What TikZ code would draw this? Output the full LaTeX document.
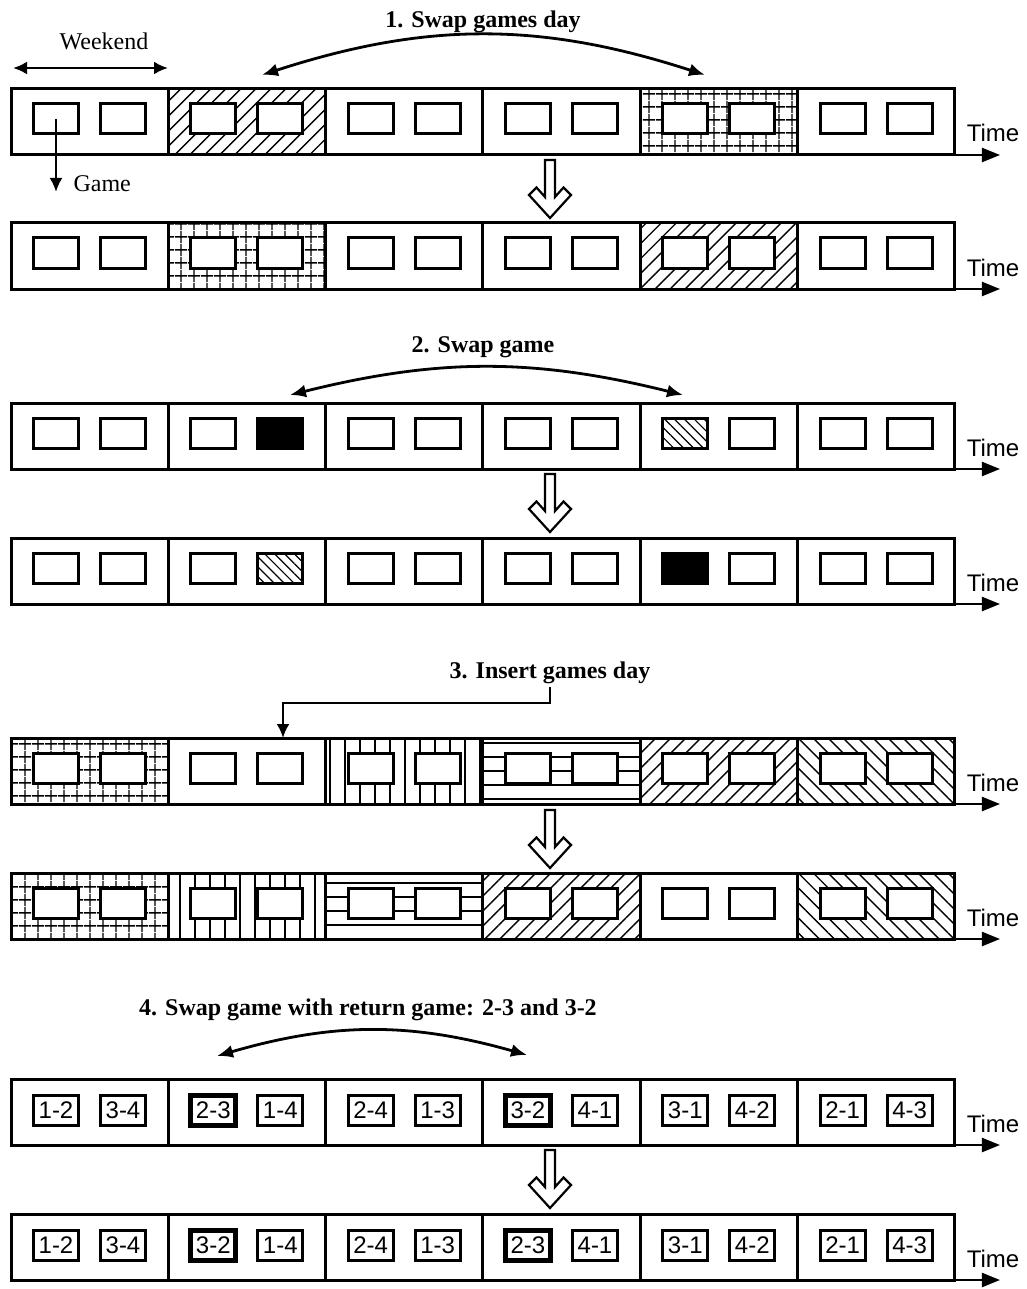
\documentclass[tikz,border=0pt]{standalone}
\usepackage{fontspec}
\setmainfont{Liberation Serif}
\setsansfont{Liberation Sans}
\usetikzlibrary{arrows.meta,patterns.meta}
\tikzset{
  day/.style={draw,line width=3pt,minimum width=157.33pt,minimum height=66pt,
    inner sep=0pt,outer sep=0pt,anchor=north west},
  game/.style={draw,line width=3pt,fill=white,minimum width=45pt,minimum height=30pt,
    inner sep=0pt,font=\sffamily\fontsize{24}{24}\selectfont},
  gfill/.style={#1},
  dplain/.style={},
  ddiag/.style={pattern={Lines[angle=45,distance=10.6pt,line width=1.4pt]}},
  danti/.style={pattern={Lines[angle=-45,distance=10.6pt,line width=1.4pt]}},
  dgrid/.style={pattern={Hatch[angle=0,distance=13pt,line width=1.4pt]}},
  dvert/.style={pattern={Lines[angle=90,distance=15pt,line width=1.4pt]}},
  dhoriz/.style={pattern={Lines[angle=0,distance=14pt,line width=1.4pt]}},
  gplain/.style={},
  gblack/.style={fill=black},
  ghatch/.style={pattern={Lines[angle=-45,distance=7pt,line width=1.2pt]}},
  gbold/.style={line width=5pt},
  ttl/.style={font=\bfseries\fontsize{24}{28}\selectfont,anchor=base},
  lbl/.style={font=\fontsize{24}{28}\selectfont,anchor=base},
  timelbl/.style={font=\sffamily\fontsize{24}{28}\selectfont,anchor=base},
  timeax/.style={line width=2.2pt,-{Triangle[length=18pt,width=14pt]}},
  swap/.style={line width=2.8pt,{Latex[length=16pt,width=13pt]}-{Latex[length=16pt,width=13pt]}},
  ptr/.style={line width=2.6pt,->},
  hollow/.style={line width=2.2pt,fill=white,line join=miter}
}
% one week: six days, time axis
\newcommand{\weekrow}[3]{%
  \foreach \dst [count=\d] in {#3}
    \node[day,gfill/.expanded=\dst] (#1d\d) at ({11+(\d-1)*157.33},#2) {};
  \coordinate (#1end) at ([xshift=45pt]#1d6.south east);
  \draw[timeax] (#1d6.south east) -- (#1end);
  \node[timelbl] (#1time) at ([xshift=38pt,yshift=13pt]#1d6.south east) {Time};
}
% two games per day
\newcommand{\gamerow}[2]{%
  \foreach \gst [count=\g] in {#2} {
    \pgfmathtruncatemacro{\dd}{(\g+1)/2}
    \pgfmathsetmacro{\gx}{isodd(\g) ? 45 : 112}
    \node[game,gfill/.expanded=\gst] (#1g\g) at ([xshift=\gx pt,yshift=3pt]#1d\dd.west) {};
  }
}
\newcommand{\labelrow}[2]{%
  \foreach \gst/\glab [count=\g] in {#2} {
    \pgfmathtruncatemacro{\dd}{(\g+1)/2}
    \pgfmathsetmacro{\gx}{isodd(\g) ? 45 : 112}
    \node[game,gfill/.expanded=\gst] (#1g\g) at ([xshift=\gx pt,yshift=1.5pt]#1d\dd.west) {\glab};
  }
}
\newcommand{\bigdown}[2]{%
  \draw[hollow,shift={(#1,#2)}] (-5,0) -- (5,0) -- (5,37) -- (13.5,27.5) -- (21,35)
    -- (0,58) -- (-21,35) -- (-13.5,27.5) -- (-5,37) -- cycle;
}
\begin{document}
\begin{tikzpicture}[x=1pt,y=-1pt,>={Latex[length=14pt,width=13pt]}]
  \useasboundingbox (0,0) rectangle (1026,1289);
  % 1. swap games day
  \node[ttl] (t1) at (483,28) {1. Swap games day};
  \node[lbl] (wk) at (104,50) {Weekend};
  \coordinate (wka) at (13,68);
  \coordinate (wkb) at (168,68);
  \draw[ptr,<->] (wka) -- (wkb);
  \weekrow{r1}{89}{dplain,ddiag,dplain,dplain,dgrid,dplain}
  \gamerow{r1}{gplain,gplain,gplain,gplain,gplain,gplain,gplain,gplain,gplain,gplain,gplain,gplain}
  \coordinate (s1a) at (262,75);
  \coordinate (s1b) at (705,75);
  \draw[swap] (s1a) to[bend left=18] (s1b);
  \node[lbl,anchor=base west] (gm) at (70,192) {Game};
  \draw[ptr] (r1g1.center) -- (r1g1.center |- gm.base);
  \bigdown{550}{160}
  \weekrow{r2}{223}{dplain,dgrid,dplain,dplain,ddiag,dplain}
  \gamerow{r2}{gplain,gplain,gplain,gplain,gplain,gplain,gplain,gplain,gplain,gplain,gplain,gplain}
  % 2. swap game
  \node[ttl] (t2) at (483,352) {2. Swap game};
  \coordinate (s2a) at (290,395);
  \coordinate (s2b) at (683,395);
  \draw[swap] (s2a) to[bend left=14] (s2b);
  \weekrow{r3}{403}{dplain,dplain,dplain,dplain,dplain,dplain}
  \gamerow{r3}{gplain,gplain,gplain,gblack,gplain,gplain,gplain,gplain,ghatch,gplain,gplain,gplain}
  \bigdown{550}{474}
  \weekrow{r4}{538}{dplain,dplain,dplain,dplain,dplain,dplain}
  \gamerow{r4}{gplain,gplain,gplain,ghatch,gplain,gplain,gplain,gplain,gblack,gplain,gplain,gplain}
  % 3. insert games day
  \node[ttl] (t3) at (550,678) {3. Insert games day};
  \weekrow{r5}{738}{dgrid,dplain,dvert,dhoriz,ddiag,danti}
  \gamerow{r5}{gplain,gplain,gplain,gplain,gplain,gplain,gplain,gplain,gplain,gplain,gplain,gplain}
  \coordinate (ins) at (283,703);
  \draw[ptr] (t3.south) |- (ins) -- (ins |- r5d2.north);
  \bigdown{550}{810}
  \weekrow{r6}{873}{dgrid,dvert,dhoriz,ddiag,dplain,danti}
  \gamerow{r6}{gplain,gplain,gplain,gplain,gplain,gplain,gplain,gplain,gplain,gplain,gplain,gplain}
  % 4. swap game with return game
  \node[ttl] (t4) at (368,1015) {4. Swap game with return game: 2-3 and 3-2};
  \coordinate (s4a) at (217,1056);
  \coordinate (s4b) at (527,1055);
  \draw[swap] (s4a) to[bend left=16] (s4b);
  \weekrow{r7}{1079}{dplain,dplain,dplain,dplain,dplain,dplain}
  \labelrow{r7}{gplain/1-2,gplain/3-4,gbold/2-3,gplain/1-4,gplain/2-4,gplain/1-3,gbold/3-2,gplain/4-1,gplain/3-1,gplain/4-2,gplain/2-1,gplain/4-3}
  \bigdown{550}{1150}
  \weekrow{r8}{1214}{dplain,dplain,dplain,dplain,dplain,dplain}
  \labelrow{r8}{gplain/1-2,gplain/3-4,gbold/3-2,gplain/1-4,gplain/2-4,gplain/1-3,gbold/2-3,gplain/4-1,gplain/3-1,gplain/4-2,gplain/2-1,gplain/4-3}
\end{tikzpicture}
\end{document}
